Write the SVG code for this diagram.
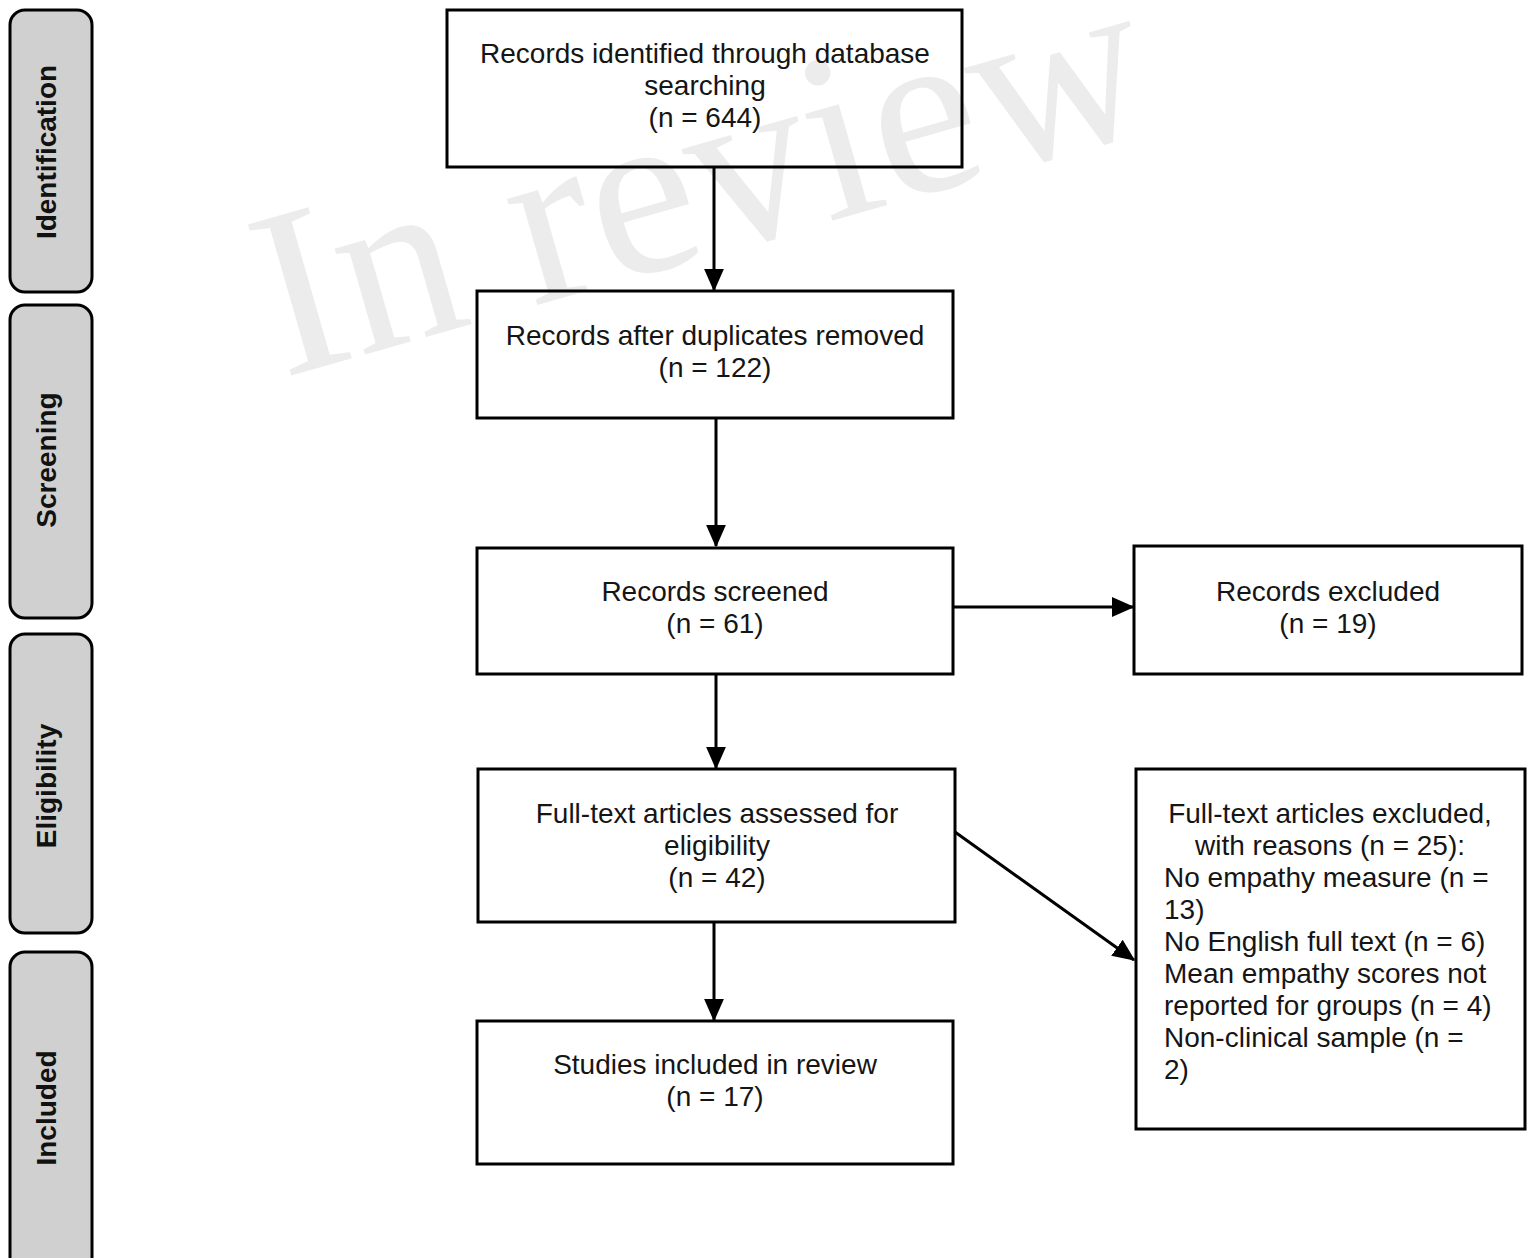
<svg xmlns="http://www.w3.org/2000/svg" width="1536" height="1258" viewBox="0 0 1536 1258">
<defs>
<marker id="ah" markerWidth="8" markerHeight="8" refX="7" refY="4" orient="auto" markerUnits="strokeWidth">
<path d="M0,0.7 L7.5,4 L0,7.3 Z" fill="#000"/>
</marker>
<style>
.phase rect{fill:#d0d0d0;stroke:#000;stroke-width:3}
.phase text{font-family:"Liberation Sans",Arial,sans-serif;font-weight:bold;font-size:28px;fill:#111;text-anchor:middle}
.box rect{fill:none;stroke:#000;stroke-width:3}
.box text{font-family:"Liberation Sans",Arial,sans-serif;font-size:28px;fill:#151515;text-anchor:middle}
.box text.l{text-anchor:start}
.conn line{stroke:#000;stroke-width:3;marker-end:url(#ah)}
.wm{font-family:"Liberation Serif","Times New Roman",serif;font-size:240px;fill:#ececec}
</style>
</defs>
<rect width="1536" height="1258" fill="#fff"/>
<text class="wm" transform="translate(283,378) rotate(-16)">In review</text>

<g id="phase-identification" class="phase">
<rect x="10" y="10" width="82" height="282" rx="15"/>
<text transform="translate(56,152) rotate(-90)">Identification</text>
</g>
<g id="phase-screening" class="phase">
<rect x="10" y="305" width="82" height="313" rx="15"/>
<text transform="translate(56,460) rotate(-90)">Screening</text>
</g>
<g id="phase-eligibility" class="phase">
<rect x="10" y="634" width="82" height="299" rx="15"/>
<text transform="translate(56,786) rotate(-90)">Eligibility</text>
</g>
<g id="phase-included" class="phase">
<rect x="10" y="952" width="82" height="320" rx="15"/>
<text transform="translate(56,1108) rotate(-90)">Included</text>
</g>

<g id="identified" class="box">
<rect x="447" y="10" width="515" height="157"/>
<text x="705" y="63">Records identified through database</text>
<text x="705" y="95">searching</text>
<text x="705" y="127">(n = 644)</text>
</g>
<g id="duplicates" class="box">
<rect x="477" y="291" width="476" height="127"/>
<text x="715" y="345">Records after duplicates removed</text>
<text x="715" y="377">(n = 122)</text>
</g>
<g id="screened" class="box">
<rect x="477" y="548" width="476" height="126"/>
<text x="715" y="601">Records screened</text>
<text x="715" y="633">(n = 61)</text>
</g>
<g id="excluded" class="box">
<rect x="1134" y="546" width="388" height="128"/>
<text x="1328" y="601">Records excluded</text>
<text x="1328" y="633">(n = 19)</text>
</g>
<g id="fulltext" class="box">
<rect x="478" y="769" width="477" height="153"/>
<text x="717" y="823">Full-text articles assessed for</text>
<text x="717" y="855">eligibility</text>
<text x="717" y="887">(n = 42)</text>
</g>
<g id="fulltext-excluded" class="box">
<rect x="1136" y="769" width="389" height="360"/>
<text x="1330" y="823">Full-text articles excluded,</text>
<text x="1330" y="855">with reasons (n = 25):</text>
<text class="l" x="1164" y="887">No empathy measure (n =</text>
<text class="l" x="1164" y="919">13)</text>
<text class="l" x="1164" y="951">No English full text (n = 6)</text>
<text class="l" x="1164" y="983">Mean empathy scores not</text>
<text class="l" x="1164" y="1015">reported for groups (n = 4)</text>
<text class="l" x="1164" y="1047">Non-clinical sample (n =</text>
<text class="l" x="1164" y="1079">2)</text>
</g>
<g id="included" class="box">
<rect x="477" y="1021" width="476" height="143"/>
<text x="715" y="1074">Studies included in review</text>
<text x="715" y="1106">(n = 17)</text>
</g>

<g id="connectors" class="conn">
<line x1="714" y1="167" x2="714" y2="290"/>
<line x1="716" y1="418" x2="716" y2="546"/>
<line x1="953" y1="607" x2="1133" y2="607"/>
<line x1="716" y1="674" x2="716" y2="768"/>
<line x1="955" y1="832" x2="1134" y2="960"/>
<line x1="714" y1="922" x2="714" y2="1020"/>
</g>
</svg>
